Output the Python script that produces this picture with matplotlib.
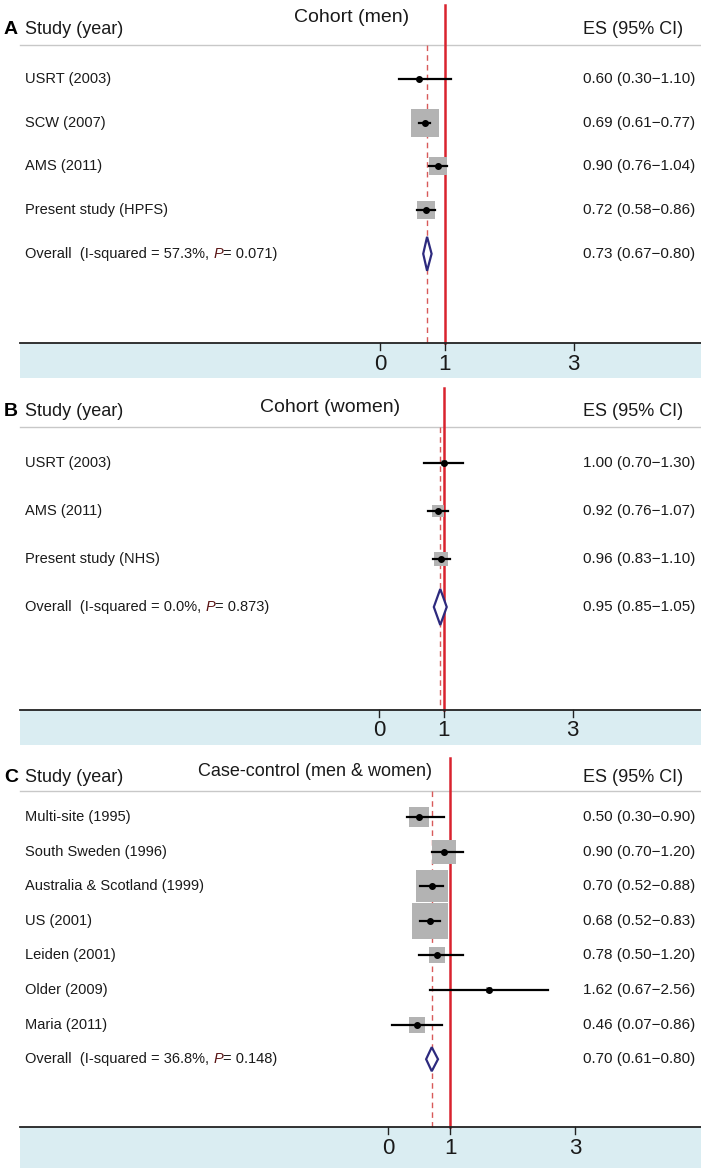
import matplotlib
matplotlib.use("Agg")
import matplotlib.pyplot as plt
from matplotlib import transforms
from matplotlib.patches import Polygon

plt.rcParams['font.family'] = ['Liberation Sans', 'DejaVu Sans']

# ---- data ----
studies_a = ['USRT (2003)', 'SCW (2007)', 'AMS (2011)', 'Present study (HPFS)']
es_a = [0.60, 0.69, 0.90, 0.72]
lo_a = [0.30, 0.61, 0.76, 0.58]
hi_a = [1.10, 0.77, 1.04, 0.86]
wt_a = [1.1, 54.1, 22.4, 22.4]
overall_a = (0.73, 0.67, 0.80)
het_a = ('57.3%', '0.071')

studies_b = ['USRT (2003)', 'AMS (2011)', 'Present study (NHS)']
es_b = [1.00, 0.92, 0.96]
lo_b = [0.70, 0.76, 0.83]
hi_b = [1.30, 1.07, 1.10]
wt_b = [9.6, 38.3, 52.1]
overall_b = (0.95, 0.85, 1.05)
het_b = ('0.0%', '0.873')

studies_c = ['Multi-site (1995)', 'South Sweden (1996)', 'Australia & Scotland (1999)',
             'US (2001)', 'Leiden (2001)', 'Older (2009)', 'Maria (2011)']
es_c = [0.50, 0.90, 0.70, 0.68, 0.78, 1.62, 0.46]
lo_c = [0.30, 0.70, 0.52, 0.52, 0.50, 0.67, 0.07]
hi_c = [0.90, 1.20, 0.88, 0.83, 1.20, 2.56, 0.86]
wt_c = [10.5, 15.3, 26.1, 33.5, 7.4, 0.7, 6.5]
overall_c = (0.70, 0.61, 0.80)
het_c = ('36.8%', '0.148')

ticks = [0, 1, 3]

W, H = 701, 1168
fig = plt.figure(figsize=(W / 100, H / 100), dpi=100)
renderer = fig.canvas.get_renderer()

band_col = '#daedf2'
red = '#d9232e'
txt = '#1a1a1a'

# layout of each panel in pixels
panels = [
    dict(letter='A', title='Cohort (men)', title_x=352, top=0, bottom=378, x0=380, ppu=64.5,
         first=79, step=43.7, header=30, title_y=17, hline=45, axis=343, red_top=5, dia=17,
         box=3.9, studies=studies_a, es=es_a, lo=lo_a, hi=hi_a, wt=wt_a,
         overall=overall_a, het=het_a),
    dict(letter='B', title='Cohort (women)', title_x=330, top=380, bottom=745, x0=379, ppu=64.5,
         first=463, step=48, header=411, title_y=407, hline=427, axis=710, red_top=388, dia=18,
         box=2.0, studies=studies_b, es=es_b, lo=lo_b, hi=hi_b, wt=wt_b,
         overall=overall_b, het=het_b),
    dict(letter='C', title='Case-control (men & women)', title_x=315, top=748, bottom=1168, x0=388,
         ppu=62.5, first=817, step=34.6, header=777, title_y=772, hline=791, axis=1127, red_top=758,
         dia=12, box=6.1, studies=studies_c, es=es_c, lo=lo_c, hi=hi_c, wt=wt_c,
         overall=overall_c, het=het_c),
]

for p in panels:
    ax = fig.add_axes([0, 1 - p['bottom'] / H, 1, (p['bottom'] - p['top']) / H])
    ax.set_axis_off()
    ax.set_xlim(-p['x0'] / p['ppu'], (W - p['x0']) / p['ppu'])
    row = lambda px, p=p: (px - p['first']) / p['step']
    ax.set_ylim(row(p['bottom']), row(p['top']))
    tr = transforms.blended_transform_factory(ax.transAxes, ax.transData)

    n = len(p['studies'])
    ov_es, ov_lo, ov_hi = p['overall']

    # band + axis
    ax.axhspan(row(p['axis']), row(p['bottom']), xmin=20 / W, xmax=1, color=band_col, lw=0, zorder=0)
    ax.axhline(row(p['axis']), xmin=20 / W, xmax=1, color='#222222', lw=1.3, zorder=3)
    for t in ticks:
        ax.plot([t, t], [row(p['axis']), row(p['axis'] + 7)], color='#222222', lw=1, zorder=3)
        ax.text(t, row(p['axis'] + 21), str(t), ha='center', va='center', fontsize=16, color=txt)

    # header
    ax.axhline(row(p['hline']), xmin=20 / W, xmax=1, color='#c8c8c8', lw=1)
    ax.text(4 / W, row(p['header']), p['letter'], transform=tr, fontsize=14, fontweight='bold',
            va='center', color='black')
    ax.text(25 / W, row(p['header']), 'Study (year)', transform=tr, fontsize=13, va='center', color=txt)
    ax.text(p['title_x'] / W, row(p['title_y']), p['title'], transform=tr,
            fontsize=14 if p['letter'] != 'C' else 13, va='center', ha='center', color=txt)
    ax.text(683 / W, row(p['header']), 'ES (95% CI)', transform=tr, fontsize=13, va='center', ha='right',
            color=txt)

    # reference lines
    ax.plot([1, 1], [row(p['red_top']), row(p['axis'])], color=red, lw=1.8, zorder=2)
    ax.plot([ov_es, ov_es], [row(p['hline']), row(p['axis'])], color='#d85a5a', lw=1,
            dashes=(4, 3), zorder=2)

    # studies
    for i in range(n):
        side = p['box'] * p['wt'][i] ** 0.5 * 0.72
        ax.scatter([p['es'][i]], [i], marker='s', s=side ** 2, color='#b3b3b3', lw=0, zorder=4)
        ax.plot([p['lo'][i], p['hi'][i]], [i, i], color='black', lw=1.6, zorder=5)
        ax.plot([p['es'][i]], [i], 'o', color='black', ms=4, zorder=6)
        ax.text(25 / W, i, p['studies'][i], transform=tr, fontsize=10.5, va='center', color=txt)
        ax.text(695 / W, i, f"{p['es'][i]:.2f} ({p['lo'][i]:.2f}\u2212{p['hi'][i]:.2f})", transform=tr,
                fontsize=11, va='center', ha='right', color=txt)

    # overall diamond
    h = p['dia'] / p['step']
    ax.add_patch(Polygon([(ov_lo, n), (ov_es, n - h), (ov_hi, n), (ov_es, n + h)], closed=True,
                         facecolor='white', edgecolor='#2d2a7e', lw=1.6, zorder=6))
    ax.text(695 / W, n, f"{ov_es:.2f} ({ov_lo:.2f}\u2212{ov_hi:.2f})", transform=tr,
            fontsize=11, va='center', ha='right', color=txt)

    yb = n + 4 / p['step']
    t1 = ax.text(25 / W, yb, f"Overall  (I-squared = {p['het'][0]}, ", transform=tr, fontsize=10.5,
                 va='baseline', color=txt)
    w1 = t1.get_window_extent(renderer=renderer).width
    t2 = ax.text(25 / W, yb, 'P', transform=transforms.offset_copy(tr, fig=fig, x=w1, y=0, units='dots'),
                 fontsize=10.5, style='italic', va='baseline', color='#5a1414')
    w2 = t2.get_window_extent(renderer=renderer).width
    ax.text(25 / W, yb, f"= {p['het'][1]})", transform=transforms.offset_copy(tr, fig=fig, x=w1 + w2, y=0,
            units='dots'), fontsize=10.5, va='baseline', color=txt)

fig.savefig('out.png', dpi=100)
